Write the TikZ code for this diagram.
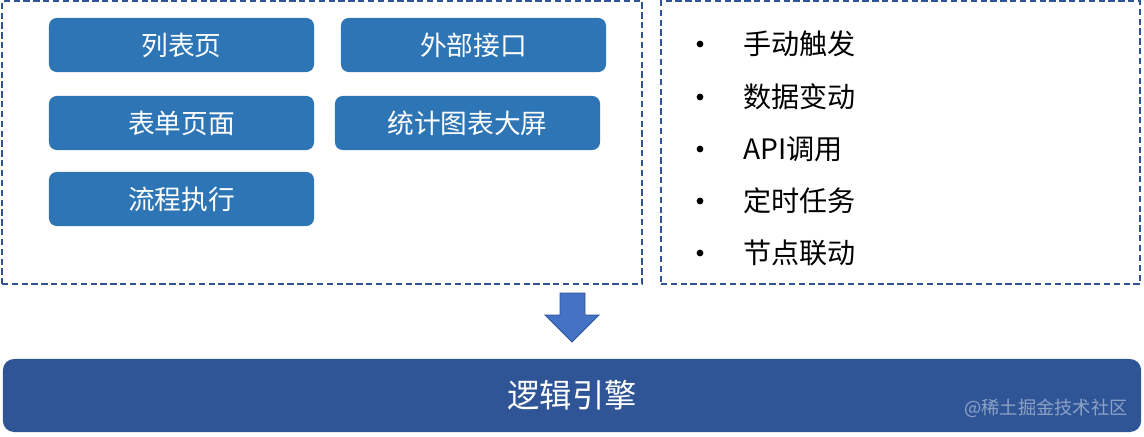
\documentclass[tikz,border=0pt]{standalone}
\usepackage{fontspec}
\setmainfont{Noto Sans CJK SC}
\definecolor{boxblue}{HTML}{2E75B6}
\definecolor{darkblue}{HTML}{2F5597}
\definecolor{arrowblue}{HTML}{4472C4}

\tikzset{
  pagebox/.style={fill=boxblue, rounded corners=5.5pt, minimum width=6.625cm, minimum height=1.35cm, inner sep=0pt, text=white, font=\fontsize{19}{19}\selectfont},
  frame/.style={draw=darkblue, line width=1.5pt, dash pattern=on 4.5pt off 2.5pt, inner sep=0pt},
  trigger/.style={anchor=west, inner sep=0pt, font=\fontsize{20}{20}\selectfont},
}

\begin{document}
\begin{tikzpicture}[x=0.025cm,y=-0.025cm]
\useasboundingbox (0,0) rectangle (1144,436);
%Sources
\node[frame, minimum width=16cm, minimum height=7.075cm] (sources) at (322,142.5) {};
\node[frame, minimum width=11.975cm, minimum height=7.075cm] (triggers) at (900.5,142.5) {};

\node[pagebox] (list) at (181.5,45) {列表页};
\node[pagebox] (api) at (473.5,45) {外部接口};
\node[pagebox] (form) at (181.5,123) {表单页面};
\node[pagebox] (screen) at (467.5,123) {统计图表大屏};
\node[pagebox] (flow) at (181.5,199) {流程执行};

%Triggers
\foreach \y/\t [count=\i] in {44/手动触发, 97/数据变动, 149/API调用, 201/定时任务, 253/节点联动}{
  \fill (700,\y) circle (2.4pt);
  \node[trigger] (t\i) at (743,\y) {\t};
}

%Engine
\fill[arrowblue, draw=darkblue, line width=0.6pt] (560,293) -- (585,293) -- (585,315) -- (599,315) -- (572,342) -- (545,315) -- (560,315) -- cycle;
\node[fill=darkblue, rounded corners=8pt, minimum width=28.45cm, minimum height=1.825cm, inner sep=0pt, text=white, font=\fontsize{23}{23}\selectfont] (engine) at (572,395.5) {逻辑引擎};
\node[anchor=east, inner sep=0pt, text=white, opacity=0.45, font=\fontsize{13}{13}\selectfont] (mark) at (1128,408) {@稀土掘金技术社区};
\end{tikzpicture}
\end{document}
